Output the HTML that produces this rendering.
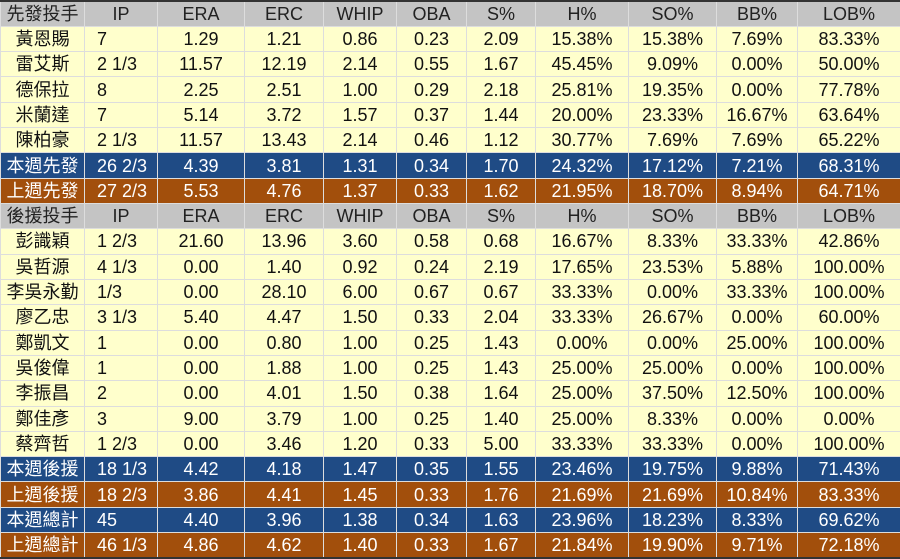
<!DOCTYPE html>
<html><head><meta charset="utf-8"><style>
html,body{margin:0;padding:0;background:#fff;}
body{width:900px;height:559px;overflow:hidden;}
table{border-collapse:collapse;table-layout:fixed;width:900px;height:559px;font-family:"Liberation Sans","Noto Sans CJK TC",sans-serif;font-size:18px;border-top:2px solid #333;border-bottom:2px solid #333;}
tr{height:25.2px;}
td{padding:0;border:1px solid #ddd;text-align:center;white-space:nowrap;line-height:22px;overflow:hidden;color:#111;}
td:nth-child(2){text-align:left;padding-left:12px;}
tr.h td{background:#c4c4c4;color:#222;}
tr.h td:nth-child(2){text-align:center;padding-left:0;}
tr.p td{background:#ffffcc;}
tr.b td{background:#1f4b85;color:#fff;}
tr.o td{background:#a24f0c;color:#fff;}
</style></head><body>
<table>
<colgroup><col style="width:84px"><col style="width:73px"><col style="width:87px"><col style="width:79px"><col style="width:73px"><col style="width:70px"><col style="width:69px"><col style="width:93px"><col style="width:88px"><col style="width:81px"><col style="width:103px"></colgroup>
<tr class="h"><td>先發投手</td><td>IP</td><td>ERA</td><td>ERC</td><td>WHIP</td><td>OBA</td><td>S%</td><td>H%</td><td>SO%</td><td>BB%</td><td>LOB%</td></tr>
<tr class="p"><td>黃恩賜</td><td>7</td><td>1.29</td><td>1.21</td><td>0.86</td><td>0.23</td><td>2.09</td><td>15.38%</td><td>15.38%</td><td>7.69%</td><td>83.33%</td></tr>
<tr class="p"><td>雷艾斯</td><td>2 1/3</td><td>11.57</td><td>12.19</td><td>2.14</td><td>0.55</td><td>1.67</td><td>45.45%</td><td>9.09%</td><td>0.00%</td><td>50.00%</td></tr>
<tr class="p"><td>德保拉</td><td>8</td><td>2.25</td><td>2.51</td><td>1.00</td><td>0.29</td><td>2.18</td><td>25.81%</td><td>19.35%</td><td>0.00%</td><td>77.78%</td></tr>
<tr class="p"><td>米蘭達</td><td>7</td><td>5.14</td><td>3.72</td><td>1.57</td><td>0.37</td><td>1.44</td><td>20.00%</td><td>23.33%</td><td>16.67%</td><td>63.64%</td></tr>
<tr class="p"><td>陳柏豪</td><td>2 1/3</td><td>11.57</td><td>13.43</td><td>2.14</td><td>0.46</td><td>1.12</td><td>30.77%</td><td>7.69%</td><td>7.69%</td><td>65.22%</td></tr>
<tr class="b"><td>本週先發</td><td>26 2/3</td><td>4.39</td><td>3.81</td><td>1.31</td><td>0.34</td><td>1.70</td><td>24.32%</td><td>17.12%</td><td>7.21%</td><td>68.31%</td></tr>
<tr class="o"><td>上週先發</td><td>27 2/3</td><td>5.53</td><td>4.76</td><td>1.37</td><td>0.33</td><td>1.62</td><td>21.95%</td><td>18.70%</td><td>8.94%</td><td>64.71%</td></tr>
<tr class="h"><td>後援投手</td><td>IP</td><td>ERA</td><td>ERC</td><td>WHIP</td><td>OBA</td><td>S%</td><td>H%</td><td>SO%</td><td>BB%</td><td>LOB%</td></tr>
<tr class="p"><td>彭識穎</td><td>1 2/3</td><td>21.60</td><td>13.96</td><td>3.60</td><td>0.58</td><td>0.68</td><td>16.67%</td><td>8.33%</td><td>33.33%</td><td>42.86%</td></tr>
<tr class="p"><td>吳哲源</td><td>4 1/3</td><td>0.00</td><td>1.40</td><td>0.92</td><td>0.24</td><td>2.19</td><td>17.65%</td><td>23.53%</td><td>5.88%</td><td>100.00%</td></tr>
<tr class="p"><td>李吳永勤</td><td>1/3</td><td>0.00</td><td>28.10</td><td>6.00</td><td>0.67</td><td>0.67</td><td>33.33%</td><td>0.00%</td><td>33.33%</td><td>100.00%</td></tr>
<tr class="p"><td>廖乙忠</td><td>3 1/3</td><td>5.40</td><td>4.47</td><td>1.50</td><td>0.33</td><td>2.04</td><td>33.33%</td><td>26.67%</td><td>0.00%</td><td>60.00%</td></tr>
<tr class="p"><td>鄭凱文</td><td>1</td><td>0.00</td><td>0.80</td><td>1.00</td><td>0.25</td><td>1.43</td><td>0.00%</td><td>0.00%</td><td>25.00%</td><td>100.00%</td></tr>
<tr class="p"><td>吳俊偉</td><td>1</td><td>0.00</td><td>1.88</td><td>1.00</td><td>0.25</td><td>1.43</td><td>25.00%</td><td>25.00%</td><td>0.00%</td><td>100.00%</td></tr>
<tr class="p"><td>李振昌</td><td>2</td><td>0.00</td><td>4.01</td><td>1.50</td><td>0.38</td><td>1.64</td><td>25.00%</td><td>37.50%</td><td>12.50%</td><td>100.00%</td></tr>
<tr class="p"><td>鄭佳彥</td><td>3</td><td>9.00</td><td>3.79</td><td>1.00</td><td>0.25</td><td>1.40</td><td>25.00%</td><td>8.33%</td><td>0.00%</td><td>0.00%</td></tr>
<tr class="p"><td>蔡齊哲</td><td>1 2/3</td><td>0.00</td><td>3.46</td><td>1.20</td><td>0.33</td><td>5.00</td><td>33.33%</td><td>33.33%</td><td>0.00%</td><td>100.00%</td></tr>
<tr class="b"><td>本週後援</td><td>18 1/3</td><td>4.42</td><td>4.18</td><td>1.47</td><td>0.35</td><td>1.55</td><td>23.46%</td><td>19.75%</td><td>9.88%</td><td>71.43%</td></tr>
<tr class="o"><td>上週後援</td><td>18 2/3</td><td>3.86</td><td>4.41</td><td>1.45</td><td>0.33</td><td>1.76</td><td>21.69%</td><td>21.69%</td><td>10.84%</td><td>83.33%</td></tr>
<tr class="b"><td>本週總計</td><td>45</td><td>4.40</td><td>3.96</td><td>1.38</td><td>0.34</td><td>1.63</td><td>23.96%</td><td>18.23%</td><td>8.33%</td><td>69.62%</td></tr>
<tr class="o"><td>上週總計</td><td>46 1/3</td><td>4.86</td><td>4.62</td><td>1.40</td><td>0.33</td><td>1.67</td><td>21.84%</td><td>19.90%</td><td>9.71%</td><td>72.18%</td></tr>
</table>
</body></html>
